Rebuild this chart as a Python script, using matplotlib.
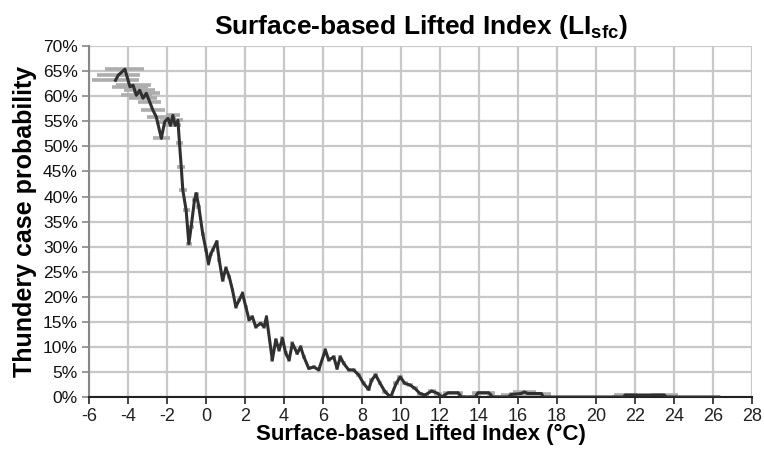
import matplotlib.pyplot as plt
from matplotlib.ticker import FuncFormatter

plt.rcParams['font.family'] = ['Liberation Sans', 'DejaVu Sans']
plt.rcParams['axes.unicode_minus'] = False
plt.rcParams['mathtext.fontset'] = 'custom'
plt.rcParams['mathtext.rm'] = 'Liberation Sans:bold'
plt.rcParams['mathtext.it'] = 'Liberation Sans:bold'

# LI value (deg C), thundery case probability (%), half width of the LI window
li = [-4.64, -4.5, -4.16, -3.9, -3.74, -3.57, -3.4, -3.23, -3.06, -2.89,
      -2.72, -2.55, -2.29, -2.12, -1.95, -1.82, -1.7, -1.58, -1.44, -1.36,
      -1.27, -1.19, -1.02, -0.88, -0.76, -0.59, -0.5, -0.37, -0.17, 0.0,
      0.13, 0.25, 0.34, 0.55, 0.68, 0.85, 1.02, 1.19, 1.36, 1.53,
      1.7, 1.87, 2.04, 2.21, 2.38, 2.55, 2.8, 2.98, 3.1, 3.4,
      3.58, 3.75, 3.92, 4.09, 4.26, 4.43, 4.68, 4.85, 5.02, 5.27,
      5.53, 5.78, 6.12, 6.29, 6.55, 6.72, 6.89, 7.06, 7.32, 7.57,
      7.83, 8.08, 8.34, 8.5, 8.7, 8.93, 9.19, 9.47, 9.75, 9.96,
      10.2, 10.46, 10.72, 10.97, 11.23, 11.57, 11.9, 12.08, 12.42, 12.93,
      13.1, 13.8, 13.95, 14.5, 14.7, 15.5, 15.65, 16.16, 16.33, 16.5,
      17.2, 17.3, 21.4, 21.5, 23.5, 23.6, 26.3]
prob = [63.2, 64.2, 65.4, 61.9, 62.2, 60.2, 61.2, 59.6, 60.6, 58.9,
        57.2, 55.9, 51.6, 54.9, 55.6, 54.2, 56.2, 54.2, 55.2, 50.6,
        45.9, 41.3, 37.3, 30.6, 34.0, 39.3, 40.6, 38.0, 32.6, 29.3,
        26.6, 28.6, 29.3, 31.0, 27.3, 23.3, 25.7, 24.0, 21.3, 18.0,
        19.3, 20.7, 18.0, 15.4, 16.0, 14.0, 14.7, 14.0, 16.0, 7.4,
        11.4, 9.4, 11.7, 8.7, 7.4, 10.7, 8.7, 10.0, 8.0, 5.7,
        6.0, 5.4, 9.4, 7.4, 8.0, 5.7, 8.0, 6.7, 5.4, 5.4,
        4.4, 2.7, 1.5, 3.4, 4.4, 2.7, 1.0, 0.0, 2.7, 4.0,
        2.7, 2.4, 1.7, 0.7, 0.4, 1.2, 0.7, 0.0, 0.85, 0.85,
        0.0, 0.0, 0.85, 0.85, 0.0, 0.0, 0.5, 0.7, 1.0, 0.7,
        0.7, 0.0, 0.0, 0.4, 0.4, 0.0, 0.0]
half_width = [1.2, 1.1, 1.0, 0.9, 0.9, 0.8, 0.8, 0.7, 0.7, 0.6,
              0.6, 0.5, 0.45, 0.45, 0.4, 0.35, 0.35, 0.3, 0.25, 0.2,
              0.2, 0.2, 0.18, 0.15, 0.15, 0.12, 0.12, 0.12, 0.1, 0.1,
              0.1, 0.1, 0.1, 0.1, 0.1, 0.1, 0.1, 0.1, 0.1, 0.1,
              0.1, 0.1, 0.1, 0.1, 0.1, 0.1, 0.1, 0.1, 0.1, 0.1,
              0.1, 0.1, 0.1, 0.1, 0.1, 0.1, 0.1, 0.1, 0.1, 0.1,
              0.1, 0.1, 0.1, 0.1, 0.1, 0.1, 0.1, 0.1, 0.1, 0.1,
              0.12, 0.12, 0.12, 0.12, 0.12, 0.12, 0.15, 0.15, 0.15, 0.15,
              0.15, 0.15, 0.15, 0.15, 0.2, 0.2, 0.2, 0.2, 0.25, 0.25,
              0.25, 0.3, 0.3, 0.3, 0.3, 0.5, 0.5, 0.6, 0.6, 0.6,
              0.5, 0.4, 0.6, 0.6, 0.7, 0.6, 0.0]

xticks = list(range(-6, 29, 2))
yticks = list(range(0, 71, 5))

fig = plt.figure(figsize=(7.64, 4.53), dpi=100)
ax = fig.add_axes([0.1165, 0.1236, 0.8678, 0.7745])

ax.errorbar(li, prob, xerr=half_width, fmt='none', ecolor='#adadad',
            elinewidth=2.6, capsize=0, zorder=2)
ax.plot(li, prob, color='#303030', lw=2.2, zorder=3)

ax.set_xlim(-6, 28)
ax.set_ylim(0, 70)
ax.set_xticks(xticks)
ax.set_yticks(yticks)
ax.yaxis.set_major_formatter(FuncFormatter(lambda v, p: '%d%%' % v))
ax.grid(True, color='#c8c8c8', lw=1.6, zorder=0)
ax.set_axisbelow(True)
for s in ['top', 'right']:
    ax.spines[s].set_visible(False)
ax.spines['left'].set_color('#888888')
ax.spines['left'].set_linewidth(1.5)
ax.spines['bottom'].set_color('#222222')
ax.spines['bottom'].set_linewidth(1.5)
ax.tick_params(axis='both', labelsize=13, length=5, width=1.2, colors='#222222', pad=3)
ax.tick_params(axis='y', colors='#888888', labelcolor='#111111', labelsize=12.5)

ax.set_title('Surface-based Lifted Index (LI$_{\\mathrm{sfc}}$)',
             fontsize=19, fontweight='bold', pad=9)
ax.set_xlabel('Surface-based Lifted Index (°C)', fontsize=16, fontweight='bold', labelpad=-1)
ax.set_ylabel('Thundery case probability', fontsize=18, fontweight='bold', labelpad=4)

fig.savefig('out.png', dpi=100)
